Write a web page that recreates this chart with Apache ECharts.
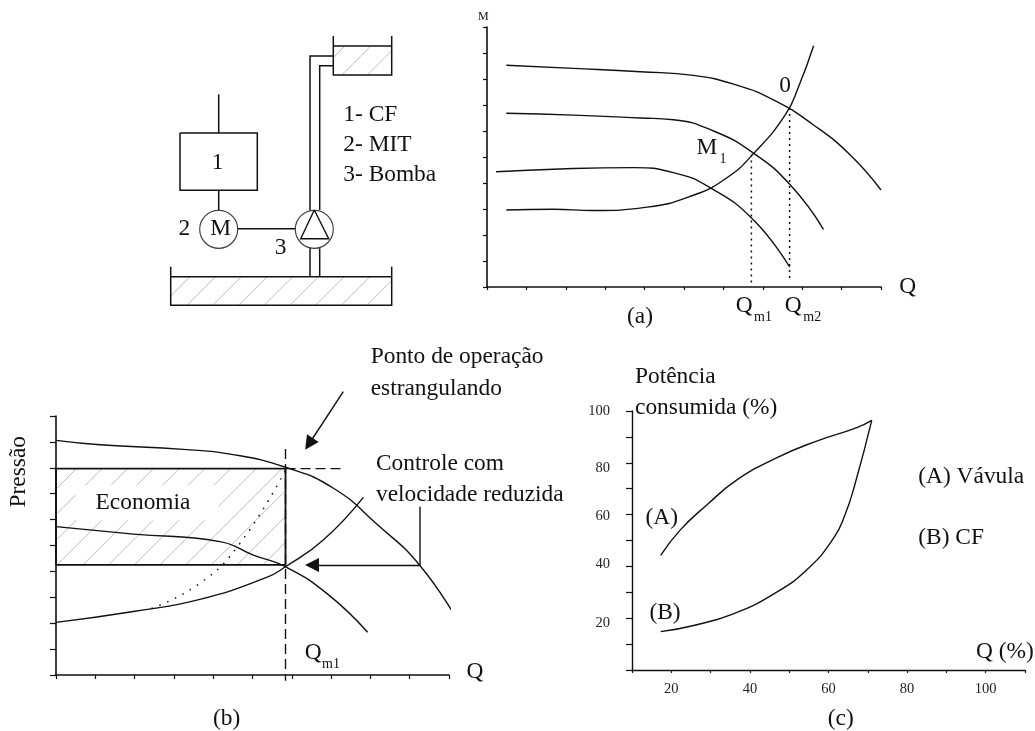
<!DOCTYPE html>
<html><head><meta charset="utf-8">
<script src="https://cdn.jsdelivr.net/npm/echarts@6/dist/echarts.min.js"></script>
<style>html,body{margin:0;padding:0;background:#fff}#c{width:1035px;height:731px}</style>
</head><body><div id="c"></div>
<script>
// ---- (a) torque / flow curves (axis units 0..10)
const aCurve1 = [[0.49,8.53],[2.19,8.41],[3.89,8.28],[5.24,8.14],[6.26,7.80],[7.27,7.20],[8.29,6.23],[9.22,5.08],[10,3.73]];
const aCurve2 = [[0.49,6.68],[2.19,6.61],[3.89,6.50],[4.73,6.43],[5.75,6.00],[6.77,5.14],[7.70,3.92],[8.54,2.22]];
const aCurve3 = [[0.23,4.43],[1.85,4.54],[3.72,4.59],[4.73,4.40],[5.66,3.82],[6.77,2.57],[7.68,0.77]];
const aSystem = [[0.49,2.96],[1.69,2.99],[2.70,2.94],[4.06,3.07],[5.24,3.53],[6.09,4.20],[6.77,5.14],[7.57,6.62],[7.91,7.71],[8.29,9.28]];
const aDropQm1 = [[6.71,5.1],[6.71,0.13]];
const aDropQm2 = [[7.68,6.88],[7.68,0.19]];
// ---- (b) pressure / flow curves (axis units 0..10)
const bCurve1 = [[0,9.06],[1.12,8.89],[3.24,8.71],[4.43,8.53],[5.84,8.02],[7.06,7.21],[8.16,5.83],[9.27,4.21],[10.25,2.02]];
const bCurve2 = [[0,5.73],[1.97,5.44],[4.17,5.15],[5.02,4.63],[5.84,4.18],[6.89,3.15],[7.93,1.65]];
const bSystem = [[0,2.03],[1.97,2.45],[3.66,2.92],[5.36,3.77],[5.84,4.18],[6.80,5.21],[7.82,6.86]];
const bDotted = [[2.43,2.57],[3.66,3.54],[4.68,5.08],[5.83,7.89]];
const bEconomy = [[0,4.25],[5.84,4.25],[5.84,7.97],[0,7.97],[0,4.25]];
const bQm1Dash = [[5.84,8.73],[5.84,-0.22]];
const bThrottleDash = [[5.84,7.97],[7.34,7.97]];
// ---- (c) power vs flow
const cValve = [[17.3,44.3],[22.3,54.1],[29.1,63.8],[36.7,73.4],[46.9,82.0],[57.0,88.4],[67.2,93.6],[71.0,96.4]];
const cDrive = [[17.3,14.8],[25.7,17.2],[35.8,21.7],[46.0,29.3],[54.5,38.7],[61.3,50.9],[64.2,59.9],[66.8,72.1],[71.0,96.4]];
const cXTickLabels = [20,40,60,80,100];
const cYTickLabels = [20,40,60,80,100];
const cYLabelShift = {100:0,80:5,60:2,40:-2,20:5};
// ---- schematic (page-unit axes of the overlay grid)
const schematicPaths = [
  [[180,133],[257.3,133],[257.3,190.3],[180,190.3],[180,133]],
  [[218.7,94.3],[218.7,133]],
  [[218.7,190.3],[218.7,210]],
  [[237.7,228.7],[295.3,228.7]],
  [[310,210.3],[310,56],[333.3,56]],
  [[319.7,210],[319.7,65.7],[333.3,65.7]],
  [[310,248.3],[310,276.7]],
  [[319.7,248.3],[319.7,276.7]],
  [[333.3,36],[333.3,75],[391.7,75],[391.7,36]],
  [[333.3,46],[391.7,46]],
  [[170.7,266.7],[170.7,305.3],[391.7,305.3],[391.7,266.7]],
  [[170.7,276.7],[391.7,276.7]]
];
const schematicCircles = [[218.7,229.3],[314.3,229.3]];
const pumpTriangle = [[314.3,210],[300.7,238.7],[328.7,238.7],[314.3,210]];
const bLeader = [[420,506.7],[420,565]];
const bArrows = [[[343.3,391.7],[309,444]],[[420,565],[312,565]]];
// [text, x, y, size, align, extra]
const F = 23.4;
const annotations = [
  ['1',217.7,163,F,'center'],['M',220.7,229,F,'center'],['2',184.3,229,F,'center'],['3',280.7,248,F,'center'],
  ['1- CF',343.3,115,F,'left'],['2- MIT',343.3,145,F,'left'],['3- Bomba',343.3,175,F,'left'],
  ['M',483.3,17.3,12,'center'],['Q',907.7,287,F,'center'],['0',785,86,F,'center'],['M',707,148,F,'center'],['1',723,159,14,'center'],
  ['Q',744.3,306,F,'center'],['m1',763,317,14,'center'],['Q',793.3,306,F,'center'],['m2',812.3,317,14,'center'],['(a)',640,316.7,F,'center'],
  ['Pressão',19,471.7,F,'center','rot'],['Economia',147,502.7,F,'center','box'],['(b)',226.7,719,F,'center'],
  ['Ponto de operação',370.7,357.3,F,'left'],['estrangulando',370.7,389,F,'left'],['Controle com',376,464,F,'left'],['velocidade reduzida',376,495,F,'left'],
  ['Q',313.3,652.7,F,'center'],['m1',331,664,14,'center'],['Q',475,672,F,'center'],
  ['Potência',635,377,F,'left'],['consumida (%)',635,408,F,'left'],['(A) Vávula',918.3,476.7,F,'left'],['(B) CF',918.3,538.3,F,'left'],
  ['(A)',661.7,518.3,F,'center'],['(B)',665,613.3,F,'center'],['Q (%)',976,652.3,F,'left'],['(c)',840.7,719.3,F,'center']
];
const FONT = '"Liberation Serif", serif';
const INK = '#111';

function curve(data, g, o){ o=o||{};
  return {type:'line',xAxisIndex:g,yAxisIndex:g,data:data,showSymbol:false,symbol:'none',silent:true,clip:false,
    smooth:o.smooth===undefined?0.5:o.smooth,z:o.z||3,
    lineStyle:{color:INK,width:o.w||1.4,type:o.type||'solid',cap:o.cap||'butt',join:'miter'}};
}
function hatch(rect, g, c0){
  return {type:'custom',xAxisIndex:g,yAxisIndex:g,clip:false,silent:true,z:1,data:[rect],
    renderItem:function(p,api){
      const a=api.coord([api.value(0),api.value(1)]), b=api.coord([api.value(2),api.value(3)]);
      const x0=Math.min(a[0],b[0]),x1=Math.max(a[0],b[0]),y0=Math.min(a[1],b[1]),y1=Math.max(a[1],b[1]);
      const kids=[];const step=25.7;
      for(let k=-60;k<60;k++){const c=c0+k*step;
        const sx=Math.max(x0,c-y1),ex=Math.min(x1,c-y0);
        if(sx<ex)kids.push({type:'line',shape:{x1:sx,y1:c-sx,x2:ex,y2:c-ex},style:{stroke:'#bdbdbd',lineWidth:1}});
      }
      return {type:'group',children:kids};
    }};
}
function axis(dim,cfg){return Object.assign({type:'value',axisLine:{show:true,onZero:false,lineStyle:{color:INK,width:1.6}},
  axisTick:{show:true,inside:false,length:cfg.tick,lineStyle:{color:INK,width:1.2}},axisLabel:{show:false},splitLine:{show:false}},cfg.o)}
function hidden(o){return Object.assign({type:'value',show:false,splitLine:{show:false}},o)}

const rich={};
Object.keys(cYLabelShift).forEach(function(k){const s=cYLabelShift[k];
  rich['v'+k]={fontFamily:FONT,fontSize:14.5,color:'#222',padding:[s>0?2*s:0,0,s<0?-2*s:0,0]};});

const option={
  animation:false,backgroundColor:'#fff',
  grid:[
    {left:0,top:0,width:1035,height:731},
    {left:487,top:27,width:394,height:260},
    {left:56,top:416,width:393,height:259},
    {left:632,top:411,width:393,height:259}
  ],
  xAxis:[
    hidden({min:0,max:1035,gridIndex:0}),
    axis('x',{tick:3,o:{min:0,max:10,interval:1,gridIndex:1}}),
    axis('x',{tick:4,o:{min:0,max:10,interval:1,gridIndex:2}}),
    (function(){const a=axis('x',{tick:3,o:{min:10,max:110,interval:10,gridIndex:3}});
      a.axisLabel={show:true,margin:12,fontFamily:FONT,fontSize:14.5,color:'#222',formatter:function(v){return cXTickLabels.includes(v)?String(v):''}};
      a.axisLine.lineStyle.width=1.4;return a;})()
  ],
  yAxis:[
    hidden({min:0,max:731,inverse:true,gridIndex:0}),
    axis('y',{tick:4,o:{min:0,max:10,interval:1,gridIndex:1}}),
    axis('y',{tick:6,o:{min:0,max:10,interval:1,gridIndex:2}}),
    (function(){const a=axis('y',{tick:6,o:{min:0,max:100,interval:10,gridIndex:3}});
      a.axisLabel={show:true,margin:22,rich:rich,formatter:function(v){return cYTickLabels.includes(v)?'{v'+v+'|'+v+'}':''}};
      a.axisLine.lineStyle.width=1.4;return a;})()
  ],
  series:[
    hatch([333.3,46,391.7,75],0,416.7),
    hatch([170.7,276.7,391.7,305.3],0,466.7),
    hatch([0,4.25,5.84,7.97],2,545),
    ...schematicPaths.map(function(p){return curve(p,0,{smooth:false,w:1.5})}),
    {type:'scatter',xAxisIndex:0,yAxisIndex:0,data:schematicCircles,symbol:'circle',symbolSize:38,silent:true,z:3,
      itemStyle:{color:'#fff',borderColor:INK,borderWidth:1.2}},
    Object.assign(curve(pumpTriangle,0,{smooth:false,w:1.4}),{z:4}),
    curve(aCurve1,1),curve(aCurve2,1),curve(aCurve3,1),curve(aSystem,1),
    curve(aDropQm1,1,{smooth:false,w:1.5,type:[2,4]}),curve(aDropQm2,1,{smooth:false,w:1.5,type:[2,4]}),
    curve(bEconomy,2,{smooth:false,w:1.8}),
    curve(bCurve1,2),curve(bCurve2,2),curve(bSystem,2),
    curve(bDotted,2,{w:1.5,type:[1.5,7]}),
    curve(bQm1Dash,2,{smooth:false,w:1.4,type:[10,5]}),
    curve(bThrottleDash,2,{smooth:false,w:1.4,type:[10,5]}),
    curve(bLeader,0,{smooth:false,w:1.4}),
    {type:'lines',coordinateSystem:'cartesian2d',xAxisIndex:0,yAxisIndex:0,silent:true,z:4,
      symbol:['none','triangle'],symbolSize:14,
      lineStyle:{color:INK,width:1.4,opacity:1,curveness:0},
      itemStyle:{color:INK},
      data:bArrows.map(function(a){return {coords:a}})},
    curve(cValve,3),curve(cDrive,3),
    {type:'custom',xAxisIndex:0,yAxisIndex:0,silent:true,clip:false,z:5,
      data:annotations.map(function(a){return [a[1],a[2]]}),
      renderItem:function(p,api){
        const a=annotations[p.dataIndex],pt=api.coord([api.value(0),api.value(1)]);
        const st={text:a[0],fontFamily:FONT,fontSize:a[3],fill:'#111',align:a[4],verticalAlign:'middle'};
        if(a[5]==='box'){st.backgroundColor='#fff';st.padding=[6,28,6,20];}
        return {type:'text',x:pt[0],y:pt[1],rotation:a[5]==='rot'?Math.PI/2:0,z2:a[5]==='box'?1:2,style:st};
      }}
  ]
};
echarts.init(document.getElementById('c'),null,{renderer:'canvas'}).setOption(option);
</script></body></html>
